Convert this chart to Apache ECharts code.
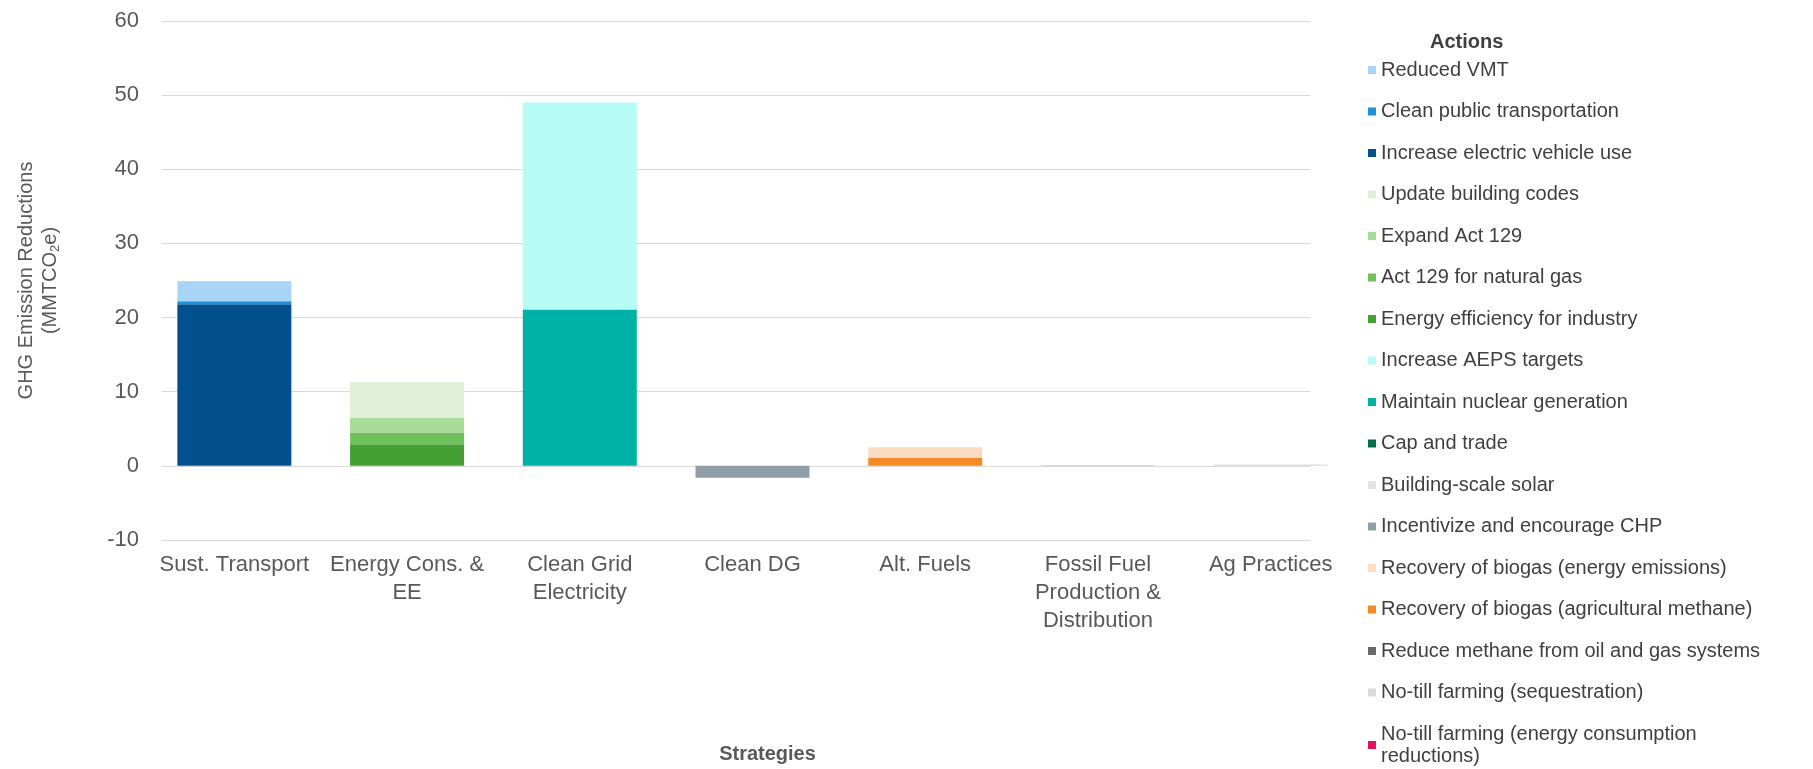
<!DOCTYPE html>
<html>
<head>
<meta charset="utf-8">
<title>GHG Emission Reductions by Strategy</title>
<script src="https://cdn.jsdelivr.net/npm/echarts@6/dist/echarts.min.js"></script>
<style>
  html, body { margin: 0; padding: 0; background: #ffffff; }
  #chart { width: 1813px; height: 769px; }
</style>
</head>
<body>
<div id="chart"></div>
<script>
// strategies on the x axis (line breaks as in the original wrapping)
const strategies = [
  'Sust. Transport',
  'Energy Cons. &\nEE',
  'Clean Grid\nElectricity',
  'Clean DG',
  'Alt. Fuels',
  'Fossil Fuel\nProduction &\nDistribution',
  'Ag Practices'
]

const yTicks = [-10, 0, 10, 20, 30, 40, 50, 60]

// one value per strategy, MMTCO2e
const reducedVMT        = [2.7, 0, 0, 0, 0, 0, 0]
const cleanPublicTrans  = [0.4, 0, 0, 0, 0, 0, 0]
const electricVehicles  = [21.8, 0, 0, 0, 0, 0, 0]
const buildingCodes     = [0, 4.8, 0, 0, 0, 0, 0]
const expandAct129      = [0, 2.0, 0, 0, 0, 0, 0]
const act129NaturalGas  = [0, 1.6, 0, 0, 0, 0, 0]
const industryEE        = [0, 2.9, 0, 0, 0, 0, 0]
const aepsTargets       = [0, 0, 27.9, 0, 0, 0, 0]
const nuclearGeneration = [0, 0, 21.1, 0, 0, 0, 0]
const capAndTrade       = [0, 0, 0, 0, 0, 0, 0]
const buildingSolar     = [0, 0, 0, 0, 0, 0, 0]
const chpIncentive      = [0, 0, 0, -1.6, 0, 0, 0]
const biogasEnergy      = [0, 0, 0, 0, 1.4, 0, 0]
const biogasAgMethane   = [0, 0, 0, 0, 1.1, 0, 0]
const oilGasMethane     = [0, 0, 0, 0, 0, 0.05, 0]
const noTillSequest     = [0, 0, 0, 0, 0, 0, 0.15]
const noTillEnergy      = [0, 0, 0, 0, 0, 0, 0.03]

// legend order (top of stack first, like the source)
const actions = [
  'Reduced VMT',
  'Clean public transportation',
  'Increase electric vehicle use',
  'Update building codes',
  'Expand Act 129',
  'Act 129 for natural gas',
  'Energy efficiency for industry',
  'Increase AEPS targets',
  'Maintain nuclear generation',
  'Cap and trade',
  'Building-scale solar',
  'Incentivize and encourage CHP',
  'Recovery of biogas (energy emissions)',
  'Recovery of biogas (agricultural methane)',
  'Reduce methane from oil and gas systems',
  'No-till farming (sequestration)',
  'No-till farming (energy consumption reductions)'
]

const actionValues = [
  reducedVMT, cleanPublicTrans, electricVehicles,
  buildingCodes, expandAct129, act129NaturalGas, industryEE,
  aepsTargets, nuclearGeneration, capAndTrade,
  buildingSolar, chpIncentive,
  biogasEnergy, biogasAgMethane,
  oilGasMethane,
  noTillSequest, noTillEnergy
]

const actionColors = [
  '#a8d5f6', '#1f8fd8', '#02508e',
  '#dff0d6', '#a9db99', '#6fc15b', '#45a033',
  '#b7fbf7', '#00b1a7', '#00704a',
  '#e4e4e4', '#8f9fa7',
  '#fcdcc0', '#f28a26',
  '#6a6a6a',
  '#dadada', '#e0115f'
]

const font = "'Liberation Sans', Arial, sans-serif"
const textColor = '#595959'

const chart = echarts.init(document.getElementById('chart'))

// stack bottom-up: last legend entry first
const series = []
for (let i = actions.length - 1; i >= 0; i--) {
  series.push({
    name: actions[i],
    type: 'bar',
    stack: 'total',
    barCategoryGap: '34%',
    itemStyle: { color: actionColors[i] },
    emphasis: { disabled: true },
    data: actionValues[i]
  })
}

const option = {
  animation: false,
  textStyle: { fontFamily: font },
  title: {
    text: 'Actions',
    left: 1430,
    top: 32,
    padding: 0,
    textStyle: { fontFamily: font, fontSize: 20, fontWeight: 'bold', color: '#404040' }
  },
  legend: {
    orient: 'vertical',
    left: 1368,
    top: 59,
    height: 720,
    padding: 0,
    itemWidth: 8,
    itemHeight: 8,
    itemGap: 19.5,
    icon: 'rect',
    data: actions,
    selectedMode: false,
    formatter: name => name.replace('consumption ', 'consumption\n'),
    textStyle: { fontFamily: font, fontSize: 20, lineHeight: 22, color: '#404040' }
  },
  // grid 0 holds the bars, grid 1 only draws the (slightly shorter) gridlines
  grid: [
    { left: 148, right: 456, top: 21, bottom: 229 },
    { left: 162, right: 503, top: 21, bottom: 229 }
  ],
  xAxis: [
    {
      type: 'category',
      data: strategies,
      name: 'Strategies',
      nameLocation: 'middle',
      nameGap: 204,
      nameTextStyle: {
        fontFamily: font, fontSize: 20, fontWeight: 'bold', color: textColor,
        padding: [0, 0, 0, 30]
      },
      axisLine: { show: false },
      axisTick: { show: false },
      axisLabel: {
        interval: 0,
        margin: 11,
        fontFamily: font,
        fontSize: 22,
        lineHeight: 28,
        color: textColor
      }
    },
    { type: 'category', gridIndex: 1, data: strategies, show: false }
  ],
  yAxis: [
    {
      type: 'value',
      min: yTicks[0],
      max: yTicks[yTicks.length - 1],
      interval: 10,
      name: '{t|GHG Emission Reductions}\n{t|(MMTCO}{s|2}{t|e)}',
      nameLocation: 'middle',
      nameRotate: 90,
      nameGap: 86,
      nameTextStyle: {
        rich: {
          t: { fontFamily: font, fontSize: 20, lineHeight: 24, color: textColor },
          s: { fontFamily: font, fontSize: 13, lineHeight: 12, color: textColor, verticalAlign: 'bottom' }
        }
      },
      axisLine: { show: false },
      axisTick: { show: false },
      axisLabel: {
        margin: 9,
        fontFamily: font,
        fontSize: 22,
        color: textColor
      },
      splitLine: { show: false }
    },
    {
      type: 'value',
      gridIndex: 1,
      min: yTicks[0],
      max: yTicks[yTicks.length - 1],
      interval: 10,
      axisLine: { show: false },
      axisTick: { show: false },
      axisLabel: { show: false },
      splitLine: { lineStyle: { color: '#d9d9d9', width: 1 } }
    }
  ],
  series: series
}

chart.setOption(option)
</script>
</body>
</html>
